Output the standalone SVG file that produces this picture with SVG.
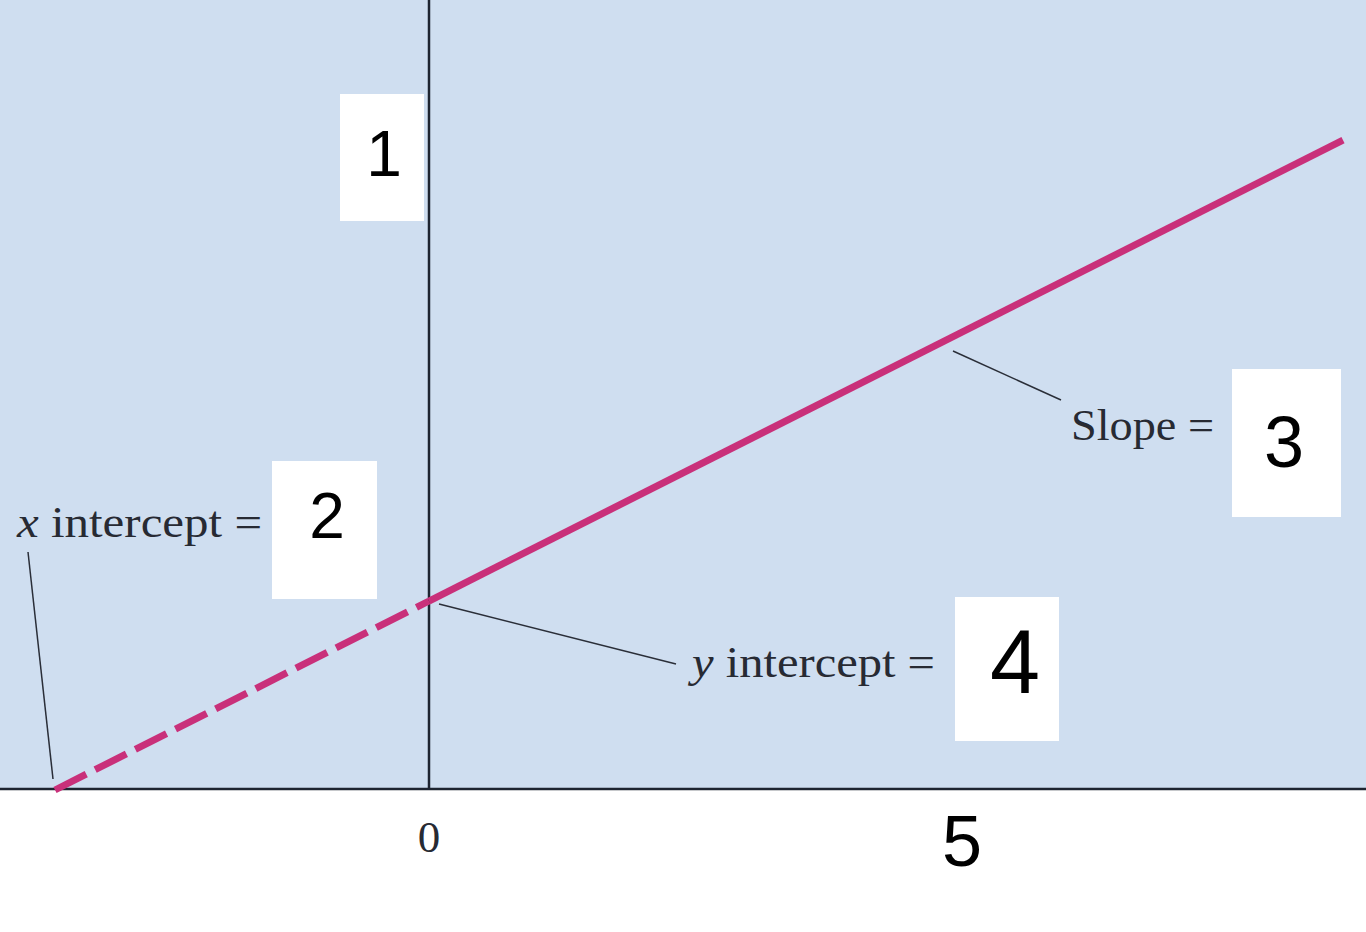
<svg xmlns="http://www.w3.org/2000/svg" width="1366" height="932" viewBox="0 0 1366 932">
<style>
.lbl{font-family:"Liberation Serif","Times New Roman",serif;font-size:45px;fill:#272a33}
.hand{font-family:"Liberation Sans",Arial,sans-serif;fill:#000;text-anchor:middle}
.box{fill:#ffffff}
.lead{stroke:#2a2e38;stroke-width:1.5;fill:none}
.axis{stroke:#1e2430;stroke-width:2.5;fill:none}
</style>
<rect x="0" y="0" width="1366" height="932" fill="#ffffff"/>
<rect id="plot-area" x="0" y="0" width="1366" height="789" fill="#cfdef0"/>
<g id="axes">
<line class="axis" x1="0" y1="789" x2="1366" y2="789"/>
<line class="axis" x1="429" y1="0" x2="429" y2="789"/>
</g>
<g id="connectors">
<line x1="55" y1="790" x2="429" y2="601" stroke="#c9307a" stroke-width="7" stroke-dasharray="35 10"/>
<line x1="429" y1="601" x2="1343" y2="140" stroke="#c9307a" stroke-width="7"/>
<line class="lead" x1="28" y1="552" x2="53" y2="779"/>
<line class="lead" x1="439" y1="604" x2="676" y2="664"/>
<line class="lead" x1="953" y1="351" x2="1061" y2="400"/>
</g>
<g id="box1">
<rect class="box" x="340" y="94" width="84" height="127"/>
<text class="hand" x="384" y="176" font-size="64">1</text>
</g>
<g id="x-intercept">
<text class="lbl" x="17" y="537" textLength="245" lengthAdjust="spacingAndGlyphs"><tspan font-style="italic">x</tspan> intercept =</text>
<rect class="box" x="272" y="461" width="105" height="138"/>
<text class="hand" x="327" y="538" font-size="64">2</text>
</g>
<g id="slope">
<text class="lbl" x="1071" y="440" textLength="143" lengthAdjust="spacingAndGlyphs">Slope =</text>
<rect class="box" x="1232" y="369" width="109" height="148"/>
<text class="hand" x="1284" y="467" font-size="72">3</text>
</g>
<g id="y-intercept">
<text class="lbl" x="692" y="677" textLength="243" lengthAdjust="spacingAndGlyphs"><tspan font-style="italic">y</tspan> intercept =</text>
<rect class="box" x="955" y="597" width="104" height="144"/>
<text class="hand" x="1015" y="693" font-size="90">4</text>
</g>
<g id="tick-0">
<text class="lbl" x="429" y="852" text-anchor="middle" font-size="44">0</text>
</g>
<g id="tick-5">
<text class="hand" x="962" y="866" font-size="72">5</text>
</g>
</svg>
